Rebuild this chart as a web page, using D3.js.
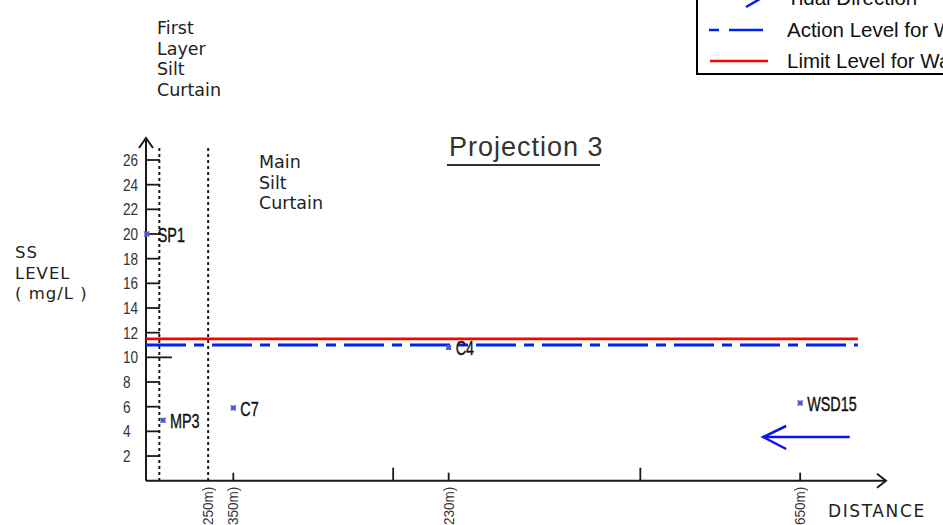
<!DOCTYPE html>
<html><head><meta charset="utf-8">
<script src="https://cdn.jsdelivr.net/npm/d3@7"></script>
<style>body{margin:0;background:#fff}svg{display:block}</style>
</head><body>
<script>
// ---- data ----
const yTicks = [2,4,6,8,10,12,14,16,18,20,22,24,26];
const stations = ["SP1","MP3","C7","C4","WSD15"];
const stationPos = [1, 23, 118, 409, 884];          // schematic distance units along x
const stationSS = [20.0, 4.9, 5.9, 10.8, 6.3];       // SS level (mg/L)
const xTickPos = [118, 334, 409, 668, 884];
const xTickTall = [false, true, false, true, false];
const xLabelPos = [84, 118, 409, 884];
const xLabels = ["(250m)", "(350m)", "(230m)", "(650m)"];
const curtainPos = [18, 84];
const actionLevel = 11.0;
const limitLevel = 11.5;
const levelExtent = [0, 962];
const tidalArrow = [951, 834];
const legendItems = ["Tidal Direction", "Action Level for Water Quality", "Limit Level for Water Quality"];

const W = 943, H = 525;
const svg = d3.select("body").append("svg").attr("width", W).attr("height", H);
const x = d3.scaleLinear().domain([0, 1000]).range([146, 886]);
const y = d3.scaleLinear().domain([0, 26]).range([480.7, 160]);
const ink = "#1a1a1a";
const narrow = "Liberation Sans, Arial, sans-serif";

// y axis
const x0 = x(0), y0 = y(0);
svg.append("line").attr("x1", x0).attr("x2", x0).attr("y1", y0).attr("y2", 138).attr("stroke", ink).attr("stroke-width", 2);
svg.append("path").attr("d", `M${x0-7},${148} L${x0},${138} L${x0+7},${148}`).attr("fill","none").attr("stroke", ink).attr("stroke-width", 2);
const yt = svg.append("g");
yt.selectAll("line").data(yTicks).join("line")
  .attr("x1", x0).attr("x2", d => d === 10 ? x0 + 26 : x0 + 14)
  .attr("y1", d => y(d)).attr("y2", d => y(d)).attr("stroke", ink).attr("stroke-width", 1.8);
yt.selectAll("text").data(yTicks).join("text")
  .attr("transform", d => `translate(123,${y(d) + 6}) scale(0.85,1)`)
  .attr("text-anchor", "start")
  .attr("font-family", narrow)
  .attr("font-size", 16).attr("fill", "#333").text(d => d);

// x axis
svg.append("line").attr("x1", x0).attr("x2", x(1000)).attr("y1", y0).attr("y2", y0).attr("stroke", ink).attr("stroke-width", 2);
svg.append("path").attr("d", `M${x(1000)-9},${y0-7} L${x(1000)},${y0} L${x(1000)-9},${y0+7}`).attr("fill","none").attr("stroke", ink).attr("stroke-width", 2);
svg.selectAll(".xt").data(xTickPos).join("line").attr("class","xt")
  .attr("x1", d => x(d)).attr("x2", d => x(d))
  .attr("y1", y0).attr("y2", (d,i) => xTickTall[i] ? y0 - 13 : y0 - 8)
  .attr("stroke", ink).attr("stroke-width", 1.8);
svg.selectAll(".xl").data(xLabels).join("text").attr("class","xl")
  .attr("transform", (d,i) => `translate(${x(xLabelPos[i]) + 5},${y0 + 6}) rotate(-90) scale(0.9,1)`)
  .attr("text-anchor", "end")
  .attr("font-family", narrow)
  .attr("font-size", 15).attr("fill", "#333").text(d => d);

// curtains (dotted verticals)
svg.selectAll(".cur").data(curtainPos).join("line").attr("class","cur")
  .attr("x1", d => x(d)).attr("x2", d => x(d)).attr("y1", 148).attr("y2", y0)
  .attr("stroke", ink).attr("stroke-width", 2).attr("stroke-dasharray", "3,3");

// level lines
svg.append("line").attr("x1", x(levelExtent[0])).attr("x2", x(levelExtent[1]))
  .attr("y1", y(limitLevel)).attr("y2", y(limitLevel)).attr("stroke", "#ff0000").attr("stroke-width", 2.8);
svg.append("line").attr("x1", x(levelExtent[0])).attr("x2", x(levelExtent[1]))
  .attr("y1", y(actionLevel)).attr("y2", y(actionLevel)).attr("stroke", "#0022ee").attr("stroke-width", 2.8)
  .attr("stroke-dasharray", "40,8,10,8");

// stations
const st = svg.append("g");
stations.forEach((s, i) => {
  const cx = x(stationPos[i]), cy = y(stationSS[i]);
  st.append("rect").attr("x", cx - 2.5).attr("y", cy - 2.5).attr("width", 5).attr("height", 5)
    .attr("fill", "#6272d4");
  st.append("path").attr("d", `M${cx-2.5},${cy-2.5}L${cx+2.5},${cy+2.5}M${cx-2.5},${cy+2.5}L${cx+2.5},${cy-2.5}`)
    .attr("stroke", "#3344bb").attr("stroke-width", 1);
  st.append("text").attr("transform", `translate(${cx + (i === 0 ? 11 : 7)},${cy + 8}) scale(0.72,1)`)
    .attr("font-family", narrow)
    .attr("font-size", 20).attr("fill", "#111").attr("stroke", "#111").attr("stroke-width", 0.4).text(s);
});

// tidal arrow
const ay = 437;
svg.append("line").attr("x1", x(tidalArrow[0])).attr("x2", x(tidalArrow[1])).attr("y1", ay).attr("y2", ay)
  .attr("stroke", "#0a14f0").attr("stroke-width", 2.5);
svg.append("path").attr("d", `M${x(tidalArrow[1])+23},${ay-11} L${x(tidalArrow[1])},${ay} L${x(tidalArrow[1])+23},${ay+12}`)
  .attr("fill","none").attr("stroke", "#0a14f0").attr("stroke-width", 2.5);

// texts
const gothic = "DejaVu Sans, Lato, sans-serif";
const addLines = (lines, xx, yy, dy, fs, fam, ls) => lines.forEach((t, i) =>
  svg.append("text").attr("x", xx).attr("y", yy + i * dy).attr("font-family", fam).attr("font-size", fs)
    .attr("letter-spacing", ls || 0).attr("fill", "#222").text(t));
addLines(["First", "Layer", "Silt", "Curtain"], 157, 34, 20.5, 17.5, gothic);
addLines(["Main", "Silt", "Curtain"], 259, 168, 20.5, 17.5, gothic);
addLines(["SS", "LEVEL", "( mg/L )"], 15, 258, 20.5, 16.5, gothic, 1);
addLines(["DISTANCE"], 828, 517, 0, 17, gothic, 1.6);

// title
svg.append("text").attr("x", 449).attr("y", 156).attr("font-family", "Liberation Sans, Arial, sans-serif")
  .attr("font-size", 27).attr("letter-spacing", 1).attr("fill", "#333").text("Projection 3");
svg.append("line").attr("x1", 447).attr("x2", 600).attr("y1", 165).attr("y2", 165).attr("stroke", "#333").attr("stroke-width", 2);

// legend
const lg = svg.append("g");
lg.append("rect").attr("x", 697).attr("y", -30).attr("width", 300).attr("height", 104)
  .attr("fill", "#fff").attr("stroke", "#000").attr("stroke-width", 2);
lg.append("path").attr("d", "M746,7 L760,-1").attr("stroke", "#0a14f0").attr("stroke-width", 2.5);
lg.append("line").attr("x1", 709).attr("x2", 763).attr("y1", 30).attr("y2", 30).attr("stroke", "#0022ee")
  .attr("stroke-width", 2.5).attr("stroke-dasharray", "10,10,36,0");
lg.append("line").attr("x1", 710).attr("x2", 768).attr("y1", 61).attr("y2", 61).attr("stroke", "#ff0000").attr("stroke-width", 2.5);
lg.selectAll("text").data(legendItems).join("text")
  .attr("x", 787).attr("y", (d,i) => 5 + i * 31.5)
  .attr("font-family", "Liberation Sans, Arial, sans-serif").attr("font-size", 20.5)
  .attr("fill", "#111").text(d => d);
</script>
</body></html>
